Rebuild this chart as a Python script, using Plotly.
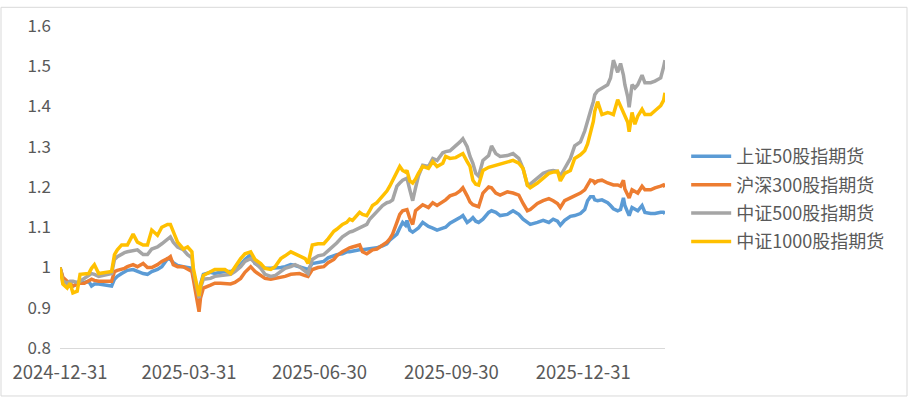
import plotly.graph_objects as go

dates = [
    "2024-12-31", "2025-01-02", "2025-01-05", "2025-01-07", "2025-01-09", "2025-01-12", "2025-01-14",
    "2025-01-17", "2025-01-20", "2025-01-22", "2025-01-24", "2025-01-27", "2025-02-05", "2025-02-07",
    "2025-02-09", "2025-02-12", "2025-02-14", "2025-02-16", "2025-02-20", "2025-02-23", "2025-02-27",
    "2025-03-02", "2025-03-05", "2025-03-09", "2025-03-12", "2025-03-16", "2025-03-18", "2025-03-20",
    "2025-03-23", "2025-03-27", "2025-03-30", "2025-04-02", "2025-04-03", "2025-04-07", "2025-04-08",
    "2025-04-10", "2025-04-15", "2025-04-18", "2025-04-22", "2025-04-25", "2025-04-29", "2025-05-02",
    "2025-05-06", "2025-05-09", "2025-05-13", "2025-05-16", "2025-05-20", "2025-05-23", "2025-05-27",
    "2025-05-30", "2025-06-03", "2025-06-06", "2025-06-10", "2025-06-13", "2025-06-16", "2025-06-20",
    "2025-06-22", "2025-06-25", "2025-06-29", "2025-07-03", "2025-07-06", "2025-07-10", "2025-07-12",
    "2025-07-16", "2025-07-19", "2025-07-21", "2025-07-23", "2025-07-26", "2025-07-28", "2025-07-30",
    "2025-08-02", "2025-08-04", "2025-08-06", "2025-08-09", "2025-08-13", "2025-08-16", "2025-08-18",
    "2025-08-20", "2025-08-23", "2025-08-25", "2025-08-27", "2025-08-29", "2025-08-30", "2025-09-01",
    "2025-09-03", "2025-09-05", "2025-09-07", "2025-09-10", "2025-09-14", "2025-09-17", "2025-09-20",
    "2025-09-24", "2025-09-26", "2025-09-29", "2025-10-03", "2025-10-06", "2025-10-08", "2025-10-11",
    "2025-10-13", "2025-10-15", "2025-10-17", "2025-10-19", "2025-10-22", "2025-10-26", "2025-10-28",
    "2025-10-31", "2025-11-03", "2025-11-08", "2025-11-12", "2025-11-16", "2025-11-19", "2025-11-22",
    "2025-11-24", "2025-11-29", "2025-12-03", "2025-12-07", "2025-12-10", "2025-12-13", "2025-12-15",
    "2025-12-18", "2025-12-22", "2025-12-25", "2025-12-29", "2026-01-01", "2026-01-03", "2026-01-05",
    "2026-01-07", "2026-01-08", "2026-01-10", "2026-01-13", "2026-01-17", "2026-01-19", "2026-01-21",
    "2026-01-24", "2026-01-26", "2026-01-28", "2026-01-29", "2026-01-31", "2026-02-01", "2026-02-03",
    "2026-02-05", "2026-02-07", "2026-02-10", "2026-02-12", "2026-02-16", "2026-02-19", "2026-02-23",
    "2026-02-25", "2026-02-26",
]

sz50 = [
    1.000, 0.973, 0.961, 0.959, 0.954, 0.959, 0.961, 0.963, 0.966, 0.954, 0.959, 0.959, 0.954, 0.971,
    0.978, 0.985, 0.990, 0.993, 0.995, 0.990, 0.985, 0.983, 0.990, 0.995, 1.002, 1.022, 1.020, 1.012,
    1.005, 1.002, 1.000, 0.998, 0.978, 0.934, 0.959, 0.983, 0.988, 0.985, 0.988, 0.990, 0.990, 0.995,
    1.007, 1.020, 1.032, 1.010, 1.002, 0.998, 0.998, 0.998, 1.000, 1.002, 1.007, 1.005, 1.002, 0.998,
    0.995, 1.010, 1.012, 1.015, 1.024, 1.029, 1.032, 1.034, 1.039, 1.039, 1.041, 1.044, 1.044, 1.044,
    1.046, 1.046, 1.049, 1.049, 1.054, 1.059, 1.068, 1.073, 1.083, 1.098, 1.112, 1.105, 1.117, 1.093,
    1.088, 1.093, 1.098, 1.112, 1.102, 1.098, 1.093, 1.098, 1.100, 1.110, 1.117, 1.124, 1.129, 1.112,
    1.117, 1.124, 1.115, 1.112, 1.120, 1.137, 1.141, 1.137, 1.129, 1.132, 1.141, 1.132, 1.120, 1.112,
    1.107, 1.112, 1.117, 1.112, 1.120, 1.115, 1.105, 1.117, 1.127, 1.129, 1.134, 1.144, 1.166, 1.176,
    1.176, 1.168, 1.166, 1.168, 1.161, 1.154, 1.146, 1.141, 1.144, 1.173, 1.154, 1.137, 1.129, 1.149,
    1.146, 1.141, 1.154, 1.137, 1.134, 1.134, 1.137, 1.137, 1.134,
]

hs300 = [
    1.000, 0.976, 0.966, 0.959, 0.954, 0.959, 0.961, 0.961, 0.966, 0.971, 0.968, 0.966, 0.966, 0.990,
    0.993, 0.995, 0.998, 1.002, 1.007, 1.002, 1.010, 1.000, 1.000, 1.007, 1.015, 1.022, 1.027, 1.007,
    1.002, 1.002, 0.995, 0.990, 0.971, 0.890, 0.924, 0.949, 0.956, 0.961, 0.961, 0.961, 0.959, 0.963,
    0.973, 0.988, 1.002, 0.990, 0.980, 0.973, 0.971, 0.973, 0.976, 0.978, 0.983, 0.983, 0.985, 0.980,
    0.978, 0.995, 1.000, 1.002, 1.012, 1.020, 1.029, 1.039, 1.046, 1.049, 1.051, 1.054, 1.056, 1.039,
    1.034, 1.039, 1.044, 1.046, 1.056, 1.063, 1.071, 1.083, 1.112, 1.132, 1.141, 1.144, 1.144, 1.122,
    1.107, 1.141, 1.146, 1.156, 1.149, 1.161, 1.154, 1.163, 1.168, 1.178, 1.183, 1.190, 1.198, 1.178,
    1.163, 1.156, 1.154, 1.151, 1.185, 1.200, 1.198, 1.185, 1.180, 1.188, 1.185, 1.180, 1.159, 1.141,
    1.144, 1.159, 1.166, 1.171, 1.166, 1.159, 1.149, 1.166, 1.173, 1.178, 1.185, 1.193, 1.207, 1.217,
    1.215, 1.210, 1.215, 1.217, 1.210, 1.207, 1.205, 1.205, 1.202, 1.217, 1.195, 1.180, 1.173, 1.193,
    1.190, 1.185, 1.202, 1.193, 1.193, 1.198, 1.202, 1.205, 1.200,
]

zz500 = [
    1.000, 0.966, 0.961, 0.966, 0.966, 0.963, 0.966, 0.973, 0.978, 0.985, 0.983, 0.978, 0.985, 1.020,
    1.027, 1.034, 1.037, 1.039, 1.041, 1.044, 1.032, 1.032, 1.046, 1.051, 1.059, 1.071, 1.076, 1.063,
    1.051, 1.044, 1.032, 1.024, 0.990, 0.924, 0.949, 0.971, 0.973, 0.978, 0.980, 0.983, 0.983, 0.990,
    1.002, 1.015, 1.022, 1.012, 0.998, 0.983, 0.978, 0.980, 0.990, 0.998, 1.002, 1.007, 1.002, 0.990,
    0.985, 1.020, 1.029, 1.032, 1.041, 1.054, 1.061, 1.076, 1.083, 1.088, 1.090, 1.095, 1.098, 1.100,
    1.107, 1.120, 1.127, 1.137, 1.154, 1.161, 1.163, 1.168, 1.202, 1.210, 1.217, 1.220, 1.222, 1.193,
    1.166, 1.198, 1.227, 1.254, 1.251, 1.271, 1.266, 1.285, 1.288, 1.290, 1.302, 1.312, 1.320, 1.300,
    1.276, 1.259, 1.234, 1.227, 1.266, 1.278, 1.302, 1.283, 1.276, 1.278, 1.283, 1.271, 1.246, 1.205,
    1.207, 1.222, 1.234, 1.239, 1.241, 1.239, 1.227, 1.246, 1.271, 1.302, 1.312, 1.339, 1.368, 1.388,
    1.412, 1.429, 1.439, 1.446, 1.454, 1.471, 1.515, 1.485, 1.507, 1.478, 1.454, 1.424, 1.398, 1.454,
    1.446, 1.454, 1.478, 1.459, 1.459, 1.463, 1.471, 1.498, 1.515,
]

zz1000 = [
    1.000, 0.959, 0.949, 0.961, 0.937, 0.941, 0.983, 0.985, 0.985, 0.998, 1.007, 0.985, 0.990, 1.032,
    1.044, 1.056, 1.056, 1.056, 1.083, 1.063, 1.056, 1.056, 1.093, 1.080, 1.100, 1.107, 1.107, 1.088,
    1.063, 1.046, 1.051, 1.039, 0.998, 0.929, 0.954, 0.980, 0.990, 0.995, 0.995, 0.995, 0.985, 1.002,
    1.022, 1.034, 1.039, 1.020, 1.010, 0.998, 0.995, 1.002, 1.022, 1.029, 1.039, 1.034, 1.029, 1.022,
    1.010, 1.056, 1.059, 1.059, 1.071, 1.090, 1.095, 1.107, 1.112, 1.120, 1.117, 1.129, 1.137, 1.132,
    1.129, 1.141, 1.154, 1.161, 1.178, 1.190, 1.202, 1.215, 1.234, 1.251, 1.241, 1.237, 1.241, 1.215,
    1.210, 1.220, 1.234, 1.251, 1.246, 1.263, 1.251, 1.259, 1.276, 1.271, 1.273, 1.278, 1.283, 1.263,
    1.251, 1.217, 1.207, 1.205, 1.241, 1.249, 1.251, 1.254, 1.259, 1.263, 1.266, 1.259, 1.246, 1.205,
    1.198, 1.210, 1.222, 1.234, 1.237, 1.239, 1.215, 1.234, 1.241, 1.271, 1.280, 1.290, 1.307, 1.332,
    1.363, 1.388, 1.412, 1.380, 1.385, 1.383, 1.380, 1.417, 1.400, 1.388, 1.376, 1.361, 1.337, 1.385,
    1.356, 1.376, 1.393, 1.380, 1.380, 1.390, 1.402, 1.415, 1.434,
]

series_names = ["上证50股指期货", "沪深300股指期货", "中证500股指期货", "中证1000股指期货"]
series_values = [sz50, hs300, zz500, zz1000]
series_colors = ["#5B9BD5", "#ED7D31", "#A5A5A5", "#FFC000"]

x_tick_vals = ["2024-12-31", "2025-03-31", "2025-06-30", "2025-09-30", "2025-12-31"]
y_tick_vals = [0.8, 0.9, 1.0, 1.1, 1.2, 1.3, 1.4, 1.5, 1.6]
y_tick_text = ["0.8", "0.9", "1", "1.1", "1.2", "1.3", "1.4", "1.5", "1.6"]

FONT = "Noto Sans CJK SC, Microsoft YaHei, sans-serif"

fig = go.Figure()
for i, (name, vals, col) in enumerate(zip(series_names, series_values, series_colors)):
    fig.add_trace(go.Scatter(
        x=dates, y=vals, name=name, mode="lines", legendgroup=f"g{i}",
        line=dict(color=col, width=3.5, shape="linear"),
    ))

fig.update_layout(
    width=909, height=399,
    margin=dict(l=60, r=244, t=20, b=51),
    paper_bgcolor="white", plot_bgcolor="white",
    font=dict(family=FONT, size=17, color="#595959"),
    showlegend=True,
    legend=dict(
        x=1.035, y=0.652, xanchor="left", yanchor="top",
        font=dict(size=18, color="#595959", family=FONT),
        tracegroupgap=2, itemwidth=40,
        bgcolor="rgba(0,0,0,0)",
    ),
    xaxis=dict(
        type="date",
        range=["2024-12-31", "2026-02-26"],
        tickvals=x_tick_vals,
        ticktext=x_tick_vals,
        showgrid=False, zeroline=False,
        showline=True, linecolor="#D9D9D9", linewidth=1,
        ticks="", tickfont=dict(size=18.5, color="#595959"),
        ticklabelstandoff=8,
    ),
    yaxis=dict(
        range=[0.8, 1.6],
        tickvals=y_tick_vals, ticktext=y_tick_text,
        showgrid=False, zeroline=False, showline=False,
        ticks="", tickfont=dict(size=17, color="#595959"),
        ticklabelstandoff=8,
    ),
    shapes=[dict(
        type="rect", xref="paper", yref="paper",
        x0=-0.0975, x1=1.400, y0=-0.149, y1=1.058,
        line=dict(color="#D9D9D9", width=1), fillcolor="rgba(0,0,0,0)",
        layer="below",
    )],
)

fig.write_html(
    "out.html",
    config={"displayModeBar": False},
    post_script="document.body.style.margin='0';document.body.style.overflow='hidden';",
)
